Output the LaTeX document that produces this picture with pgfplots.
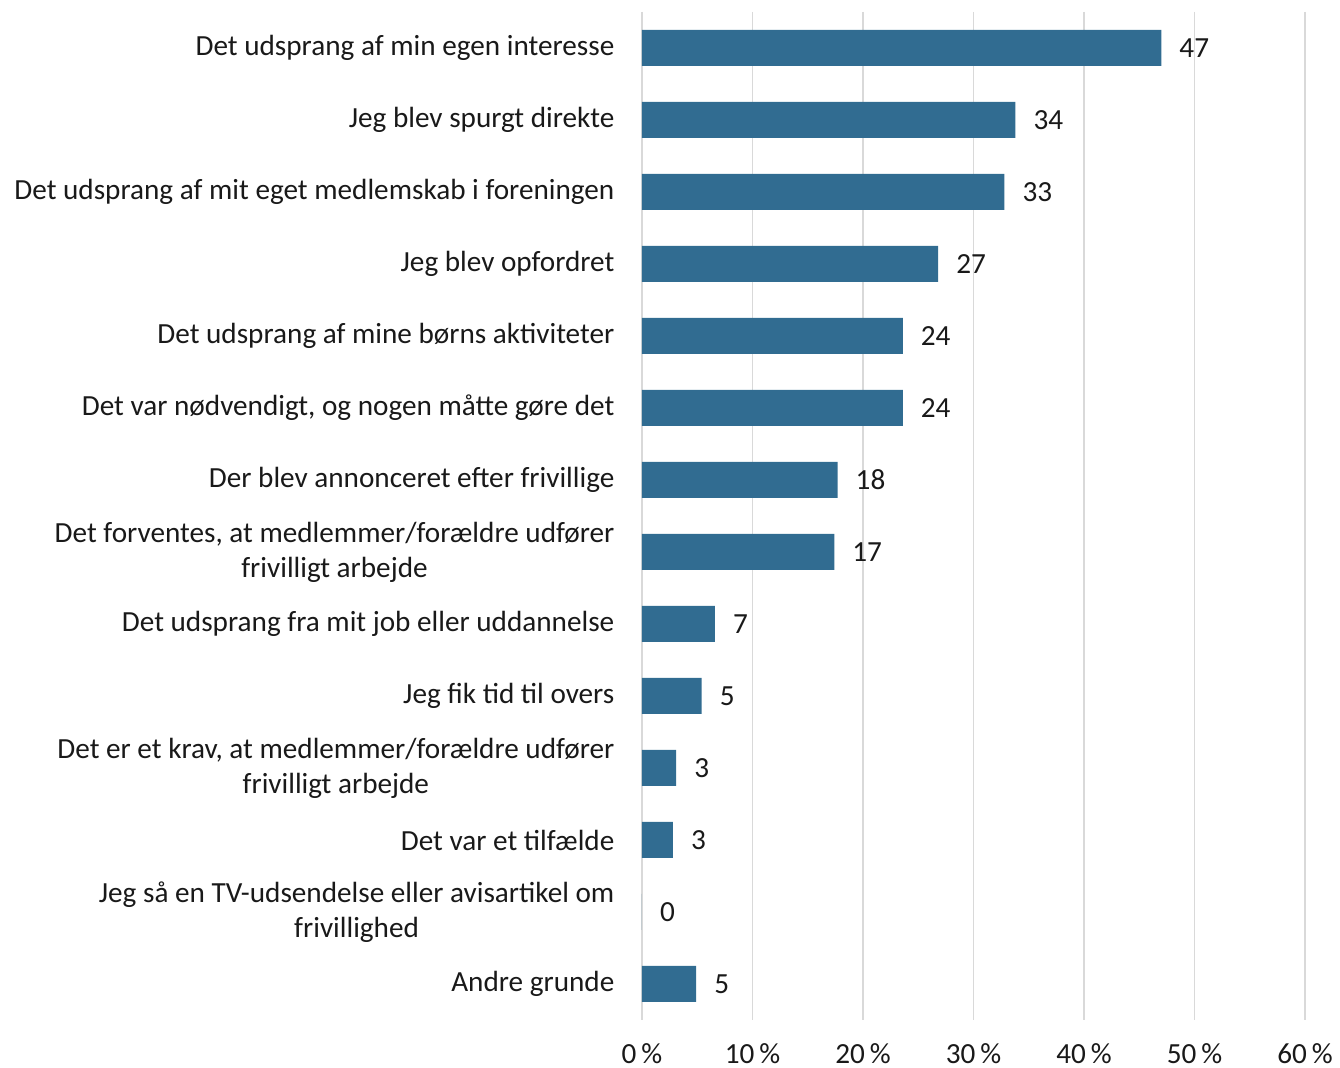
\documentclass[border=0pt]{standalone}
\usepackage{fontspec}
\setmainfont{Carlito}
\usepackage{pgfplots}
\pgfplotsset{compat=1.18}
\definecolor{barblue}{RGB}{49,108,145}
\definecolor{gridgray}{RGB}{217,217,217}
\definecolor{txt}{RGB}{25,25,25}
\begin{document}
\fontsize{14.6}{17.5}\selectfont
\begin{tikzpicture}
\path[use as bounding box] (-321pt,-24pt) rectangle (349pt,510pt);
\begin{axis}[
  at={(0,0)}, anchor=south west,
  scale only axis, width=331.5pt, height=504pt,
  xbar, bar width=18pt,
  xmin=0, xmax=60, xtick={0,10,...,60},
  ymin=-0.5, ymax=13.5, y dir=reverse,
  ytick={0,...,13},
  /pgf/number format/assume math mode=true,
  /pgf/number format/fixed, /pgf/number format/precision=0,
  xticklabel={\pgfmathprintnumber{\tick}\,\%},
  xticklabel style={font=\fontsize{14.6}{17.5}\selectfont, text=txt, yshift=-6.5pt},
  yticklabel style={font=\fontsize{14.6}{17.5}\selectfont, text=txt, align=center, xshift=-4.5pt},
  yticklabels={
    Det udsprang af min egen interesse,
    Jeg blev spurgt direkte,
    Det udsprang af mit eget medlemskab i foreningen,
    Jeg blev opfordret,
    Det udsprang af mine børns aktiviteter,
    {Det var nødvendigt, og nogen måtte gøre det},
    Der blev annonceret efter frivillige,
    {Det forventes, at medlemmer/forældre udfører\\frivilligt arbejde},
    Det udsprang fra mit job eller uddannelse,
    Jeg fik tid til overs,
    {Det er et krav, at medlemmer/forældre udfører\\frivilligt arbejde},
    Det var et tilfælde,
    Jeg så en TV-udsendelse eller avisartikel om\\frivillighed,
    Andre grunde},
  axis line style={draw=none},
  tick style={draw=none},
  xmajorgrids, ymajorgrids=false,
  grid style={gridgray, line width=0.75pt},
  point meta=x,
  nodes near coords,
  every node near coord/.append style={font=\fontsize{14.6}{17.5}\selectfont, text=txt, xshift=4pt},
]
\addplot[fill=barblue, draw=none] coordinates {
  (47,0) (33.8,1) (32.8,2) (26.8,3) (23.6,4) (23.6,5) (17.7,6)
  (17.4,7) (6.6,8) (5.4,9) (3.1,10) (2.8,11) (0,12) (4.9,13)
};
\end{axis}
\end{tikzpicture}
\end{document}
